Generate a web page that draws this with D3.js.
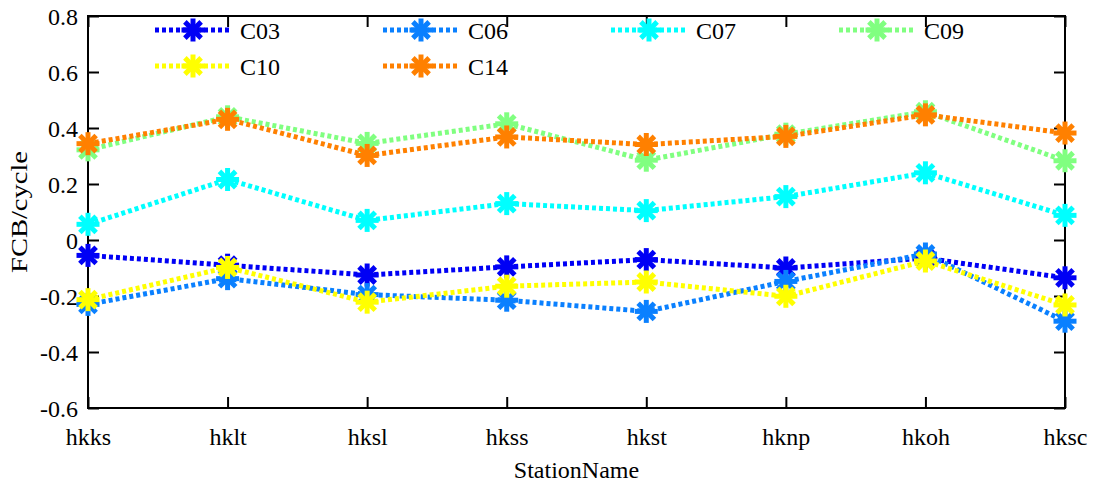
<!DOCTYPE html>
<html>
<head>
<meta charset="utf-8">
<script src="https://cdn.jsdelivr.net/npm/d3@7"></script>
<style>
  body { margin: 0; background: #fff; }
  svg { display: block; }
  svg text { font-family: "Liberation Serif", "DejaVu Serif", serif !important; fill: #000; }
</style>
</head>
<body>
<svg id="chart" width="1095" height="491"></svg>
<script>
// ---- Data ----
const stations = ["hkks", "hklt", "hksl", "hkss", "hkst", "hknp", "hkoh", "hksc"];
const yTicks = [-0.6, -0.4, -0.2, 0, 0.2, 0.4, 0.6, 0.8];
const seriesNames = ["C03", "C06", "C07", "C09", "C10", "C14"];
const seriesColors = ["#0000f5", "#0a80ff", "#00ffff", "#80ff80", "#ffff00", "#ff8000"];
const C03 = [-0.055, -0.09, -0.125, -0.096, -0.07, -0.10, -0.065, -0.135];
const C06 = [-0.23, -0.138, -0.195, -0.215, -0.255, -0.148, -0.05, -0.29];
const C07 = [0.056, 0.216, 0.07, 0.13, 0.105, 0.155, 0.24, 0.088];
const C09 = [0.322, 0.44, 0.345, 0.415, 0.285, 0.378, 0.458, 0.283];
const C10 = [-0.213, -0.098, -0.222, -0.165, -0.15, -0.201, -0.075, -0.232];
const C14 = [0.344, 0.431, 0.302, 0.368, 0.341, 0.37, 0.447, 0.382];
const seriesValues = [C03, C06, C07, C09, C10, C14];

// ---- Layout ----
const svg = d3.select("#chart");
const mLeft = 88, mRight = 1065, mTop = 16, mBottom = 408;
const x = d3.scalePoint().domain(stations).range([mLeft, mRight]);
const y = d3.scaleLinear().domain([-0.6, 0.8]).range([mBottom, mTop]);
const tickLen = 11;
const fmtY = d => d === 0 ? "0" : d.toFixed(1);

// ---- Axes ----
const gx = svg.append("g").attr("transform", `translate(0,${mBottom})`)
  .call(d3.axisBottom(x).tickSizeInner(-tickLen).tickSizeOuter(0).tickPadding(20));
const gxTop = svg.append("g").attr("transform", `translate(0,${mTop})`)
  .call(d3.axisTop(x).tickSizeInner(-tickLen).tickSizeOuter(0).tickFormat(""));
const gy = svg.append("g").attr("transform", `translate(${mLeft},0)`)
  .call(d3.axisLeft(y).tickValues(yTicks).tickSizeInner(-tickLen).tickSizeOuter(0).tickPadding(10)
    .tickFormat(fmtY));
const gyR = svg.append("g").attr("transform", `translate(${mRight},0)`)
  .call(d3.axisRight(y).tickValues(yTicks).tickSizeInner(-tickLen).tickSizeOuter(0).tickFormat(""));

[gx, gxTop, gy, gyR].forEach(g => {
  g.attr("font-family", null).attr("font-size", null);
  g.select(".domain").remove();
  g.selectAll(".tick line").attr("stroke", "#000").attr("stroke-width", 2);
  g.selectAll(".tick text").style("font-size", "24px");
});
gy.selectAll(".tick text").attr("dy", "0.35em");
gx.selectAll(".tick text").attr("dy", "0.71em");

svg.append("rect").attr("x", mLeft).attr("y", mTop)
  .attr("width", mRight - mLeft).attr("height", mBottom - mTop)
  .attr("fill", "none").attr("stroke", "#000").attr("stroke-width", 2);

// Axis labels
svg.append("text").attr("x", (mLeft + mRight) / 2).attr("y", 478)
  .attr("text-anchor", "middle").style("font-size", "24px").text("StationName");
svg.append("text").attr("transform", `translate(27,${(mTop + mBottom) / 2}) rotate(-90)`)
  .attr("text-anchor", "middle").style("font-size", "24px")
  .attr("textLength", 122).attr("lengthAdjust", "spacingAndGlyphs").text("FCB/cycle");

// ---- Marker ----
function star(g, cx, cy, color) {
  const r = 11.5;
  const m = g.append("g").attr("transform", `translate(${cx},${cy})`);
  for (let k = 0; k < 4; k++) {
    const a = k * Math.PI / 4;
    m.append("line")
      .attr("x1", -r * Math.sin(a)).attr("y1", -r * Math.cos(a))
      .attr("x2", r * Math.sin(a)).attr("y2", r * Math.cos(a))
      .attr("stroke", color).attr("stroke-width", 5);
  }
  m.append("circle").attr("r", 5.5).attr("fill", color);
}

// ---- Series ----
const line = d3.line().x((d, i) => x(stations[i])).y(d => y(d));
seriesValues.forEach((vals, si) => {
  const g = svg.append("g");
  g.append("path").datum(vals).attr("d", line)
    .attr("fill", "none").attr("stroke", seriesColors[si])
    .attr("stroke-width", 5).attr("stroke-dasharray", "4,3");
  vals.forEach((v, i) => star(g, x(stations[i]), y(v), seriesColors[si]));
});

// ---- Legend ----
const legCols = [155, 383, 611, 839];
const legRows = [30, 66];
seriesNames.forEach((name, i) => {
  const lx = legCols[i % 4], ly = legRows[Math.floor(i / 4)];
  const g = svg.append("g");
  g.append("line").attr("x1", lx).attr("x2", lx + 77).attr("y1", ly).attr("y2", ly)
    .attr("stroke", seriesColors[i]).attr("stroke-width", 5).attr("stroke-dasharray", "4,3");
  star(g, lx + 38, ly, seriesColors[i]);
  g.append("text").attr("x", lx + 85).attr("y", ly + 9).style("font-size", "24px").text(name);
});
</script>
</body>
</html>
